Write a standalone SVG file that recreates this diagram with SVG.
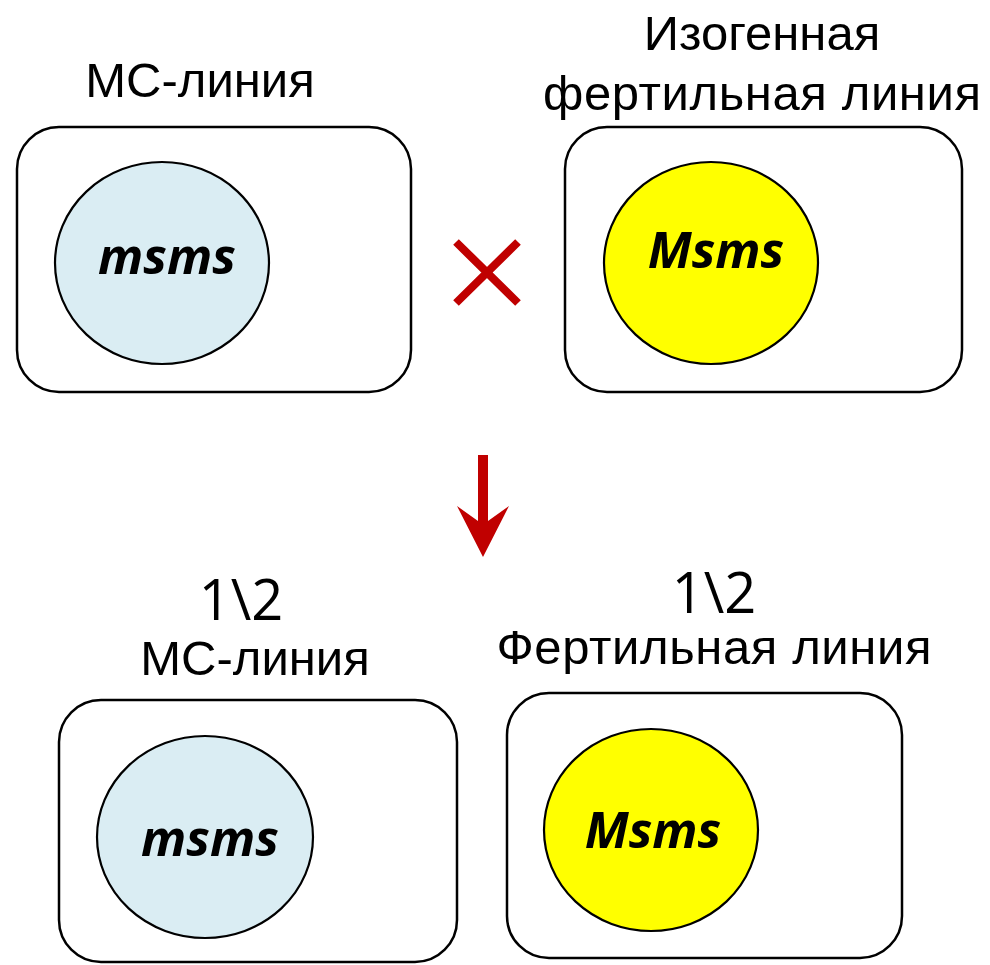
<svg xmlns="http://www.w3.org/2000/svg" width="990" height="965" viewBox="0 0 990 965">
<style>
.box{fill:#ffffff;stroke:#000000;stroke-width:2.5}
.c{stroke:#000000;stroke-width:2.2}
.blue{fill:#daedf3}
.yel{fill:#ffff00}
.lbl{font-family:"Liberation Sans",Arial,sans-serif;font-size:49px;fill:#000000;text-anchor:middle}
.frac{font-family:"Open Sans","Noto Sans",sans-serif;font-size:56px;fill:#000000;text-anchor:middle}
.gen{font-family:"Open Sans","Noto Sans",sans-serif;font-size:50px;font-weight:bold;font-style:italic;fill:#000000;text-anchor:middle}
</style>
<rect width="990" height="965" fill="#ffffff"/>
<g id="label-ms-top"><text class="lbl" x="200" y="97">МС-линия</text></g>
<g id="label-iso"><text class="lbl" x="762" y="50">Изогенная</text><text class="lbl" x="762" y="110" textLength="438" lengthAdjust="spacing">фертильная линия</text></g>
<g id="node-ms-top">
<rect class="box" x="17" y="127" width="394" height="265" rx="42" ry="42"/>
<ellipse class="c blue" cx="162" cy="263" rx="107" ry="101"/>
<text class="gen" x="167" y="274">msms</text>
</g>
<g id="node-fert-top">
<rect class="box" x="565" y="127" width="397" height="265" rx="42" ry="42"/>
<ellipse class="c yel" cx="711" cy="263" rx="107" ry="101"/>
<text class="gen" x="716" y="268">Msms</text>
</g>
<g id="cross">
<path d="M456 242 L518 303 M518 242 L456 303" stroke="#c00000" stroke-width="8" fill="none"/>
</g>
<g id="connectors">
<polygon points="478,455 488,455 488,521 509,506 483,557 457,506 478,521" fill="#c00000"/>
</g>
<g id="label-ms-bottom"><text class="frac" x="241" y="620">1\2</text><text class="lbl" x="255" y="675">МС-линия</text></g>
<g id="label-fert-bottom"><text class="frac" x="714" y="613">1\2</text><text class="lbl" x="714" y="664" textLength="435" lengthAdjust="spacing">Фертильная линия</text></g>
<g id="node-ms-bottom">
<rect class="box" x="59" y="700" width="398" height="262" rx="42" ry="42"/>
<ellipse class="c blue" cx="205" cy="837" rx="108" ry="101"/>
<text class="gen" x="210" y="856">msms</text>
</g>
<g id="node-fert-bottom">
<rect class="box" x="507" y="693" width="395" height="265" rx="42" ry="42"/>
<ellipse class="c yel" cx="651" cy="830" rx="107" ry="101"/>
<text class="gen" x="653" y="848">Msms</text>
</g>
</svg>
